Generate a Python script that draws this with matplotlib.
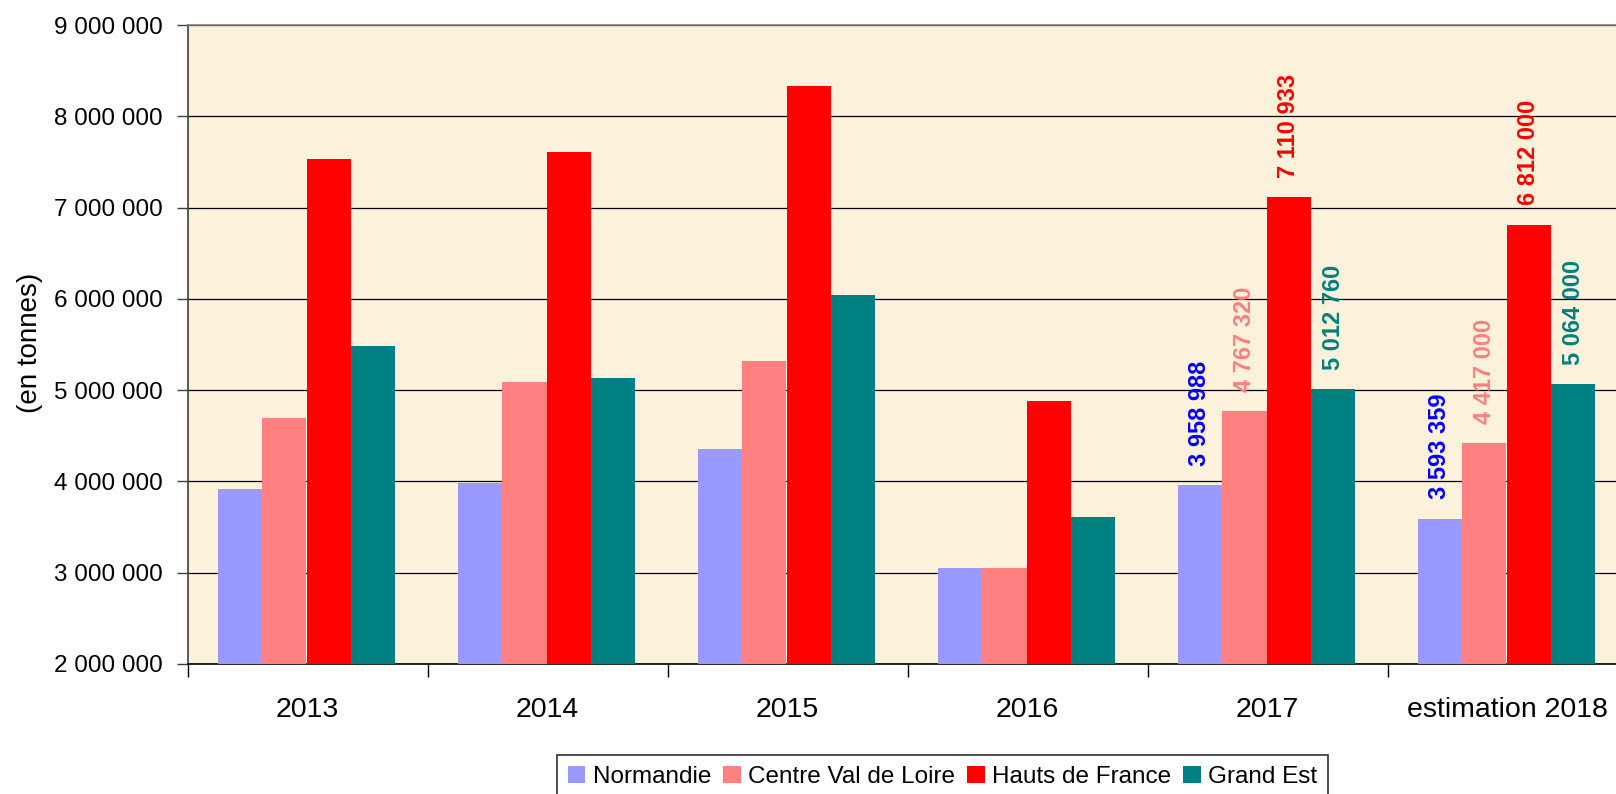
import numpy as np
import matplotlib.pyplot as plt

# ---- data ----
years = ["2013", "2014", "2015", "2016", "2017", "estimation 2018"]
series = ["Normandie", "Centre Val de Loire", "Hauts de France", "Grand Est"]

normandie = [3920000, 3980000, 4360000, 3050000, 3958988, 3593359]
centre = [4700000, 5090000, 5320000, 3050000, 4767320, 4417000]
hauts = [7530000, 7610000, 8330000, 4880000, 7110933, 6812000]
grand_est = [5480000, 5130000, 6040000, 3610000, 5012760, 5064000]

# only the last two years carry value labels
labelled = [4, 5]

bar_colors = ["#9999FF", "#FF8080", "#FF0000", "#008080"]
text_colors = ["#0000FF", "#FF8080", "#FF0000", "#008080"]

plt.rcParams['font.family'] = ['Liberation Sans', 'DejaVu Sans']

fig = plt.figure(figsize=(16.16, 7.94), dpi=100)
ax = fig.add_axes([187.7 / 1616, 1 - 664 / 794,
                   (1627.7 - 187.7) / 1616, (664 - 25) / 794])
ax.set_facecolor("#FCF2DB")

x = np.arange(len(years))
w = 0.185
start = -0.375
for k, (vals, col) in enumerate(zip([normandie, centre, hauts, grand_est], bar_colors)):
    pos = x + start + w * (k + 0.5)
    ax.bar(pos, np.array(vals) - 2000000, width=w, bottom=2000000,
           color=col, label=series[k], zorder=3, linewidth=0)
    for i in labelled:
        ax.annotate(f"{vals[i]:,}".replace(",", " "), (pos[i], vals[i]),
                    xytext=(0, 14), textcoords="offset points",
                    rotation=90, ha="center", va="bottom",
                    fontsize=17, fontweight="bold", color=text_colors[k],
                    zorder=4)

ax.set_ylim(2000000, 9000000)
ax.set_xlim(-0.5, len(years) - 0.5)
yt = np.arange(2000000, 9000001, 1000000)
ax.set_yticks(yt)
ax.set_yticklabels([f"{v:,}".replace(",", " ") for v in yt], fontsize=17.5)
ax.yaxis.grid(True, color="black", linewidth=0.9, zorder=1)
ax.set_axisbelow(True)

ax.set_xticks(x)
ax.set_xticklabels(years, fontsize=20.5)
ax.set_xticks(np.arange(-0.5, len(years)), minor=True)
ax.tick_params(axis="x", which="major", length=0, pad=24)
ax.tick_params(axis="x", which="minor", length=9, width=1, color="black")
ax.tick_params(axis="y", length=8, width=1, pad=10, color="#404040")

ax.spines["right"].set_visible(False)
ax.spines["top"].set_color("#808080")
ax.spines["left"].set_color("#404040")
ax.spines["bottom"].set_color("black")
for s in ax.spines.values():
    s.set_linewidth(1.2)

fig.text(30 / 1616, 1 - 343 / 794, "(en tonnes)", rotation=90,
         ha="center", va="center", fontsize=20)

leg = fig.legend(loc="upper left", bbox_to_anchor=(557 / 1616, 1 - 755 / 794),
                 ncol=4, fontsize=17.5, frameon=True, fancybox=False,
                 handlelength=0.72, handleheight=0.72, handletextpad=0.3,
                 columnspacing=0.5, borderpad=0.45, borderaxespad=0)
leg.get_frame().set_edgecolor("black")
leg.get_frame().set_linewidth(1.2)

fig.savefig("out.png", dpi=100)
